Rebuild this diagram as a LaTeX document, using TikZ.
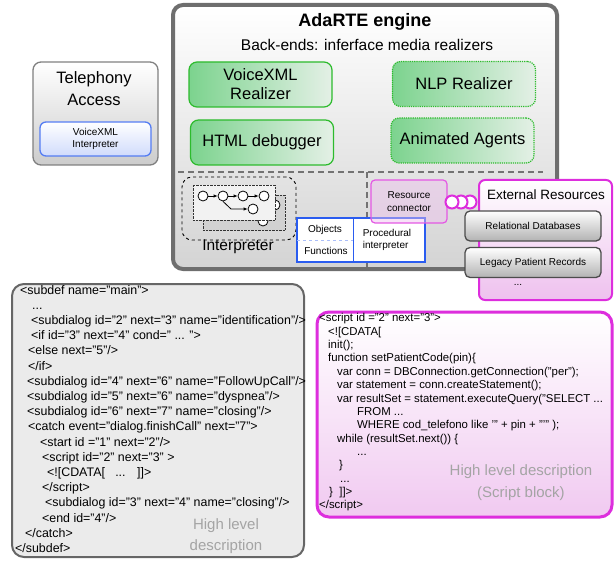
\documentclass[tikz,border=0pt]{standalone}
\usepackage{fontspec}
\setmainfont{Liberation Sans}
\usetikzlibrary{arrows.meta}

\definecolor{enginegray}{HTML}{6E6E6E}
\definecolor{realgreen}{HTML}{2DBB2D}
\definecolor{leftgreen}{HTML}{7CD38E}
\definecolor{palegreen}{HTML}{E4F0E6}
\definecolor{resmagenta}{HTML}{DD2EDD}
\definecolor{respink}{HTML}{EEC0EE}
\definecolor{objblue}{HTML}{2A5CF0}
\definecolor{descgray}{HTML}{A4A4A4}

\tikzset{
  realizer/.style={draw=realgreen, line width=1.2pt, rounded corners=8pt,
    left color=leftgreen, right color=palegreen, align=center,
    minimum width=143, minimum height=45, inner sep=0pt,
    font=\fontsize{16.5}{19}\selectfont},
  futurerealizer/.style={realizer, densely dotted},
  recordbox/.style={draw=black!70, line width=1.3pt, rounded corners=5pt,
    top color=white, bottom color=black!30, minimum width=136, minimum height=30,
    font=\fontsize{10}{12}\selectfont},
  codeline/.style={anchor=base west, inner sep=0pt, font=\fontsize{12.4}{14}\selectfont},
  scriptline/.style={anchor=base west, inner sep=0pt, font=\fontsize{11.4}{13}\selectfont},
  desclabel/.style={text=descgray, align=center, font=\fontsize{15}{21.5}\selectfont},
  flowdot/.style={circle, draw=black, fill=white, line width=0.8pt, minimum size=10, inner sep=0pt},
  smalllabel/.style={font=\fontsize{10}{12.5}\selectfont, align=center, inner sep=0pt}
}

\begin{document}
\begin{tikzpicture}[x=1pt, y=-1pt]
    \useasboundingbox (0,0) rectangle (615,561);

    % Telephony side
    \node[draw=black!50, line width=1.3pt, rounded corners=8pt, top color=white, bottom color=black!20,
          minimum width=125, minimum height=103] (phone) at (95.5,113.5) {};
    \node[align=center, font=\fontsize{16.5}{22}\selectfont] (phonetitle) at (94,89) {Telephony\\Access};
    \node[draw=objblue!80, line width=1.3pt, rounded corners=6pt, top color=white, bottom color=objblue!22,
          minimum width=111, minimum height=34, smalllabel] (vxmlint) at (95.5,139) {VoiceXML\\Interpreter};

    % The engine box
    \node[draw=enginegray, line width=4pt, rounded corners=10pt, top color=white, bottom color=black!17,
          minimum width=384, minimum height=264] (engine) at (365,137) {};
    \node[font=\bfseries\fontsize{18}{20}\selectfont] (enginetitle) at (365,22) {AdaRTE engine};
    \node[font=\fontsize{15.5}{18}\selectfont] (backends) at (367,45) {Back-ends: inferface media realizers};

    % Realizers
    \node[realizer] (vxml) at (260.5,84.5) {VoiceXML\\Realizer};
    \node[futurerealizer] (nlp) at (464,84) {NLP Realizer};
    \node[realizer] (html) at (262,142.5) {HTML debugger};
    \node[futurerealizer] (agents) at (462.5,140.5) {Animated Agents};

    % Separators
    \draw[black!55, line width=2.5pt, dash pattern=on 6pt off 4pt] (178,172) -- (543,172);
    \draw[black!55, line width=2pt, dash pattern=on 6pt off 4pt] (367,172) -- (367,267);

    % Interpreter
    \node[draw, dashed, line width=0.9pt, rounded corners=10pt, minimum width=114, minimum height=63] (interp) at (239,208.5) {};
    \node[font=\fontsize{15.5}{18}\selectfont] (interplabel) at (238,247) {Interpreter};
    \node[draw=black!80, densely dotted, fill=black!18, minimum width=82, minimum height=35, inner sep=0pt] (backsheet) at (244,212.5) {};
    \node[flowdot] (peek1) at (275,205) {};
    \node[flowdot] (peek2) at (263,221) {};
    \node[draw=black!80, densely dotted, fill=black!5, minimum width=82, minimum height=35, inner sep=0pt] (frontsheet) at (234,202.5) {};
    \foreach \n/\x in {1/203,2/223,3/243,4/264} {
        \node[flowdot] (dot\n) at (\x,196) {};
    }
    \node[flowdot] (dot5) at (253,209) {};
    \draw[-{Latex[length=4pt,width=3.5pt]}, line width=0.8pt] (dot1) -- (dot2);
    \draw[-{Latex[length=4pt,width=3.5pt]}, line width=0.8pt] (dot2) -- (dot3);
    \draw[-{Latex[length=4pt,width=3.5pt]}, line width=0.8pt] (dot3) -- (dot4);
    \draw[-{Latex[length=4pt,width=3.5pt]}, line width=0.8pt] (dot2.south) -- (231,209) -- (dot5);

    % Objects and functions
    \node[draw=objblue, line width=1.4pt, fill=white, minimum width=128, minimum height=44] (procbox) at (361,240) {};
    \draw[objblue, line width=1pt] (353,218) -- (353,262);
    \draw[objblue!40, dashed, line width=0.8pt] (297,240) -- (353,240);
    \node[smalllabel] (objects) at (325,230) {Objects};
    \node[smalllabel] (functions) at (326,251) {Functions};
    \node[smalllabel, align=left] (procedural) at (387,240) {Procedural\\interpreter};

    % Resource connector
    \node[draw=resmagenta!80, line width=1.2pt, rounded corners=4pt, fill=respink, fill opacity=0.45, text opacity=1,
          minimum width=76, minimum height=43, smalllabel] (connector) at (409,201.5) {Resource\\connector};
    \foreach \n/\x in {3/470,2/461,1/452} {
        \node[circle, draw=resmagenta, line width=2pt, fill=white, minimum size=13, inner sep=0pt] (plug\n) at (\x,202) {};
    }

    % External resources
    \node[draw=resmagenta, line width=2pt, rounded corners=6pt, top color=white, bottom color=respink,
          minimum width=133, minimum height=120] (external) at (545.5,240) {};
    \node[font=\fontsize{13.5}{16}\selectfont] (externaltitle) at (546,195) {External Resources};
    \node[recordbox] (reldb) at (533,226) {Relational Databases};
    \node[recordbox] (legacy) at (533,262.5) {Legacy Patient Records};
    \node[smalllabel] (moreres) at (518,285) {...};

    % Left code block
    \node[draw=black!60, line width=2pt, rounded corners=12pt, fill=black!8,
          minimum width=292, minimum height=273] (subdefbox) at (158,420.5) {};
    \node[codeline] (sd1) at (20,294) {<subdef name="main">};
    \node[codeline] (sd2) at (32,309.2) {...};
    \node[codeline] (sd3) at (31,324.4) {<subdialog id="2" next="3" name="identification"/>};
    \node[codeline] (sd4) at (31,339.6) {<if id="3" next="4" cond=" ... ">};
    \node[codeline] (sd5) at (28,354.8) {<else next="5"/>};
    \node[codeline] (sd6) at (28,370) {</if>};
    \node[codeline] (sd7) at (27,385.2) {<subdialog id="4" next="6" name="FollowUpCall"/>};
    \node[codeline] (sd8) at (27,400.4) {<subdialog id="5" next="6" name="dyspnea"/>};
    \node[codeline] (sd9) at (27,415.6) {<subdialog id="6" next="7" name="closing"/>};
    \node[codeline] (sd10) at (28,430.8) {<catch event="dialog.finishCall" next="7">};
    \node[codeline] (sd11) at (40,446) {<start id ="1" next="2"/>};
    \node[codeline] (sd12) at (42,461.2) {<script id="2" next="3" >};
    \node[codeline] (sd13) at (47,476.4) {<![CDATA[ \ \ ... \ \ ]]>};
    \node[codeline] (sd14) at (42,491.6) {</script>};
    \node[codeline] (sd15) at (45,506.8) {<subdialog id="3" next="4" name="closing"/>};
    \node[codeline] (sd16) at (42,522) {<end id="4"/>};
    \node[codeline] (sd17) at (25,537.2) {</catch>};
    \node[codeline] (sd18) at (15,552.4) {</subdef>};
    \node[desclabel] (subdefdesc) at (226,536) {High level\\description};

    % Right code block
    \node[draw=resmagenta, line width=3pt, rounded corners=12pt, top color=white, bottom color=respink!85,
          minimum width=295, minimum height=205] (scriptbox) at (464.5,414.5) {};
    \node[scriptline] (sc1) at (319,321.8) {<script id ="2" next="3">};
    \node[scriptline] (sc2) at (328,335.2) {<![CDATA[};
    \node[scriptline] (sc3) at (328,348.5) {init();};
    \node[scriptline] (sc4) at (328,361.9) {function setPatientCode(pin)\{};
    \node[scriptline] (sc5) at (337,375.2) {var conn = DBConnection.getConnection("per");};
    \node[scriptline] (sc6) at (337,388.6) {var statement = conn.createStatement();};
    \node[scriptline] (sc7) at (337,402) {var resultSet = statement.executeQuery("SELECT ...};
    \node[scriptline] (sc8) at (357,415.3) {FROM ...};
    \node[scriptline] (sc9) at (357,428.7) {WHERE cod\_telefono like '" + pin + "'" );};
    \node[scriptline] (sc10) at (337,442) {while (resultSet.next()) \{};
    \node[scriptline] (sc11) at (357,455.4) {...};
    \node[scriptline] (sc12) at (339,468.8) {\}};
    \node[scriptline] (sc13) at (340,482.1) {...};
    \node[scriptline] (sc14) at (329,495.5) {\} \ ]]>};
    \node[scriptline] (sc15) at (319,508.8) {</script>};
    \node[desclabel] (scriptdesc) at (521,482.5) {High level description\\(Script block)};
\end{tikzpicture}
\end{document}
